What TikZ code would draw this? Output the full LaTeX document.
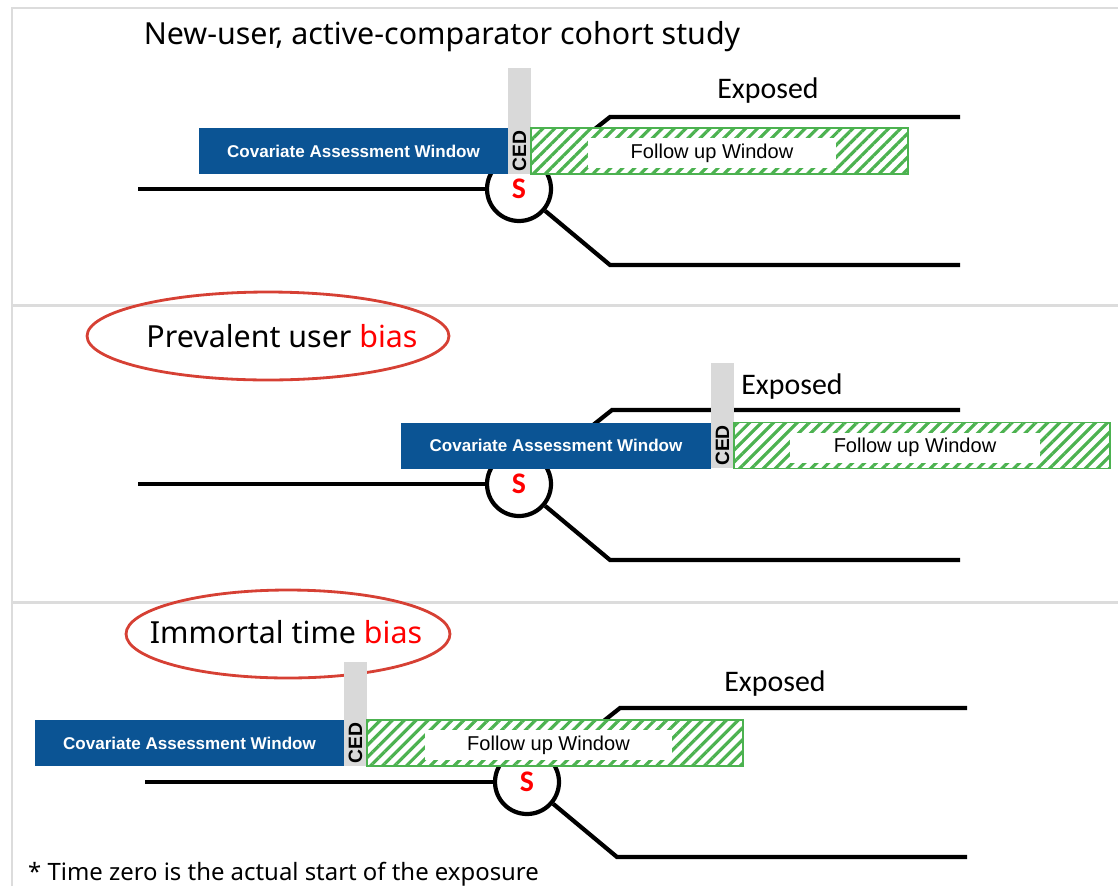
\documentclass[tikz,border=0pt]{standalone}
\usepackage{fontspec}
\setmainfont{Noto Sans}
\newfontfamily\arialfont{Liberation Sans}
\newfontfamily\califont{Carlito}
\usepackage{tikz}
\usetikzlibrary{calc}
\usetikzlibrary{shapes}
\usetikzlibrary{patterns.meta}
\definecolor{cawblue}{RGB}{11,84,148}
\definecolor{fugreen}{RGB}{76,178,80}
\definecolor{cedgrey}{RGB}{217,217,217}
\definecolor{framegrey}{RGB}{220,220,220}
\definecolor{ringred}{RGB}{214,64,52}
\tikzset{mframe/.style={draw=framegrey,line width=1.7pt}}
\tikzset{tline/.style={draw,black,line width=2.4pt}}
\tikzset{startnode/.style={draw,circle,line width=2.4pt,fill=white,minimum size=1.28cm,inner sep=0pt,text=red,font=\califont\bfseries\fontsize{17}{17}\selectfont}}
\tikzset{covbox/.style={fill=cawblue,text=white,inner sep=0pt,minimum height=0.92cm,font=\arialfont\bfseries\fontsize{9.7}{9.7}\selectfont}}
\tikzset{cedbar/.style={fill=cedgrey,inner sep=0pt,minimum width=0.46cm}}
\tikzset{cedtext/.style={rotate=90,inner sep=0pt,font=\arialfont\bfseries\fontsize{11}{11}\selectfont}}
\tikzset{fubox/.style={draw=fugreen,line width=1pt,fill=white,inner sep=0pt,minimum height=0.92cm,postaction={pattern={Lines[angle=45,distance=4.8pt,line width=1.8pt]},pattern color=fugreen}}}
\tikzset{fuwhite/.style={fill=white,inner sep=0pt,minimum height=0.6cm,font=\arialfont\fontsize{11.4}{11.4}\selectfont}}
\tikzset{exptext/.style={font=\califont\fontsize{17}{17}\selectfont}}
\tikzset{headtext/.style={font=\fontsize{17.3}{17.3}\selectfont}}
\tikzset{notetext/.style={font=\fontsize{13.6}{13.6}\selectfont}}
\tikzset{biasring/.style={draw=ringred,ellipse,line width=1.6pt,inner sep=0pt}}

\begin{document}
\begin{tikzpicture}[x=0.02cm,y=-0.02cm]
\useasboundingbox (0,0) rectangle (1118,886);
% frame
\draw[mframe] (12,886) -- (12,8) -- (1118,8);
\draw[mframe] (12,305) -- (1118,305);
\draw[mframe] (12,602) -- (1118,602);

% panel 1: new-user design
\node[headtext] (title1) at (442,37) {New-user, active-comparator cohort study};
\coordinate (l1) at (138,189);
\coordinate (up1) at (610,117);
\coordinate (upend1) at (960,117);
\coordinate (lo1) at (610,265);
\coordinate (loend1) at (960,265);
\node[startnode] (s1) at (519,189) {S};
\draw[tline] (l1) -- (s1);
\draw[tline] (s1) -- (up1) -- (upend1);
\draw[tline] (s1) -- (lo1) -- (loend1);
\node[covbox,minimum width=6.18cm] (cov1) at (353.5,151) {Covariate Assessment Window};
\node[cedbar,minimum height=2.12cm] (cedbar1) at (519.5,121) {};
\node[cedtext] (ced1) at (519.5,151) {CED};
\node[fubox,minimum width=7.54cm] (fu1) at (719.5,151) {};
\node[fuwhite,minimum width=4.96cm] (fuw1) at (712,153) {Follow up Window};
\node[exptext] (exp1) at (768,91) {Exposed};

% panel 2: prevalent user
\node[biasring,minimum width=7.24cm,minimum height=1.76cm] (ring2) at (268,336) {};
\node[headtext] (bias2) at (282,336) {Prevalent user \textcolor{red}{bias}};
\coordinate (l2) at (138,484);
\coordinate (up2) at (612,410);
\coordinate (upend2) at (960,410);
\coordinate (lo2) at (610,560);
\coordinate (loend2) at (960,560);
\node[startnode] (s2) at (519,484) {S};
\draw[tline] (l2) -- (s2);
\draw[tline] (s2) -- (up2) -- (upend2);
\draw[tline] (s2) -- (lo2) -- (loend2);
\node[covbox,minimum width=6.2cm] (cov2) at (556,445.5) {Covariate Assessment Window};
\node[cedbar,minimum height=2.1cm] (cedbar2) at (722.5,415.5) {};
\node[cedtext] (ced2) at (722.5,445.5) {CED};
\node[fubox,minimum width=7.52cm] (fu2) at (922,445.5) {};
\node[fuwhite,minimum width=5cm] (fuw2) at (915,447.5) {Follow up Window};
\node[exptext] (exp2) at (792,387) {Exposed};

% panel 3: immortal time
\node[biasring,minimum width=6.48cm,minimum height=1.76cm] (ring3) at (288,634) {};
\node[headtext] (bias3) at (286,632) {Immortal time \textcolor{red}{bias}};
\coordinate (l3) at (145,782);
\coordinate (up3) at (620,708);
\coordinate (upend3) at (967,708);
\coordinate (lo3) at (617,857);
\coordinate (loend3) at (967,857);
\node[startnode] (s3) at (527,782) {S};
\draw[tline] (l3) -- (s3);
\draw[tline] (s3) -- (up3) -- (upend3);
\draw[tline] (s3) -- (lo3) -- (loend3);
\node[covbox,minimum width=6.18cm] (cov3) at (189.5,743) {Covariate Assessment Window};
\node[cedbar,minimum height=2.08cm] (cedbar3) at (355.5,714) {};
\node[cedtext] (ced3) at (355.5,743) {CED};
\node[fubox,minimum width=7.52cm] (fu3) at (555,743) {};
\node[fuwhite,minimum width=4.94cm] (fuw3) at (548.5,745) {Follow up Window};
\node[exptext] (exp3) at (775,684) {Exposed};

\node[anchor=base west,notetext] (note) at (22,880) {* Time zero is the actual start of the exposure};
\end{tikzpicture}
\end{document}
